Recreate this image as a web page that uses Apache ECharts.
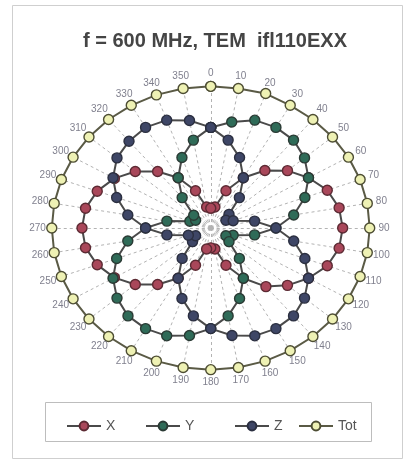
<!DOCTYPE html>
<html>
<head>
<meta charset="utf-8">
<script src="https://cdn.jsdelivr.net/npm/echarts@6/dist/echarts.min.js"></script>
<style>
  html, body { margin: 0; padding: 0; background: #ffffff; }
  #chart { width: 406px; height: 461px; }
</style>
</head>
<body>
<div id="chart"></div>
<script>
// Field-component pattern at f = 600 MHz in the TEM cell, one value every 10 degrees
const angles = [0, 10, 20, 30, 40, 50, 60, 70, 80, 90, 100, 110, 120, 130, 140, 150, 160, 170,
                180, 190, 200, 210, 220, 230, 240, 250, 260, 270, 280, 290, 300, 310, 320, 330, 340, 350];

const xValues = [0.14, 0.15, 0.28, 0.41, 0.53, 0.63, 0.71, 0.78, 0.82, 0.83, 0.82, 0.78, 0.71, 0.63, 0.54, 0.41, 0.28, 0.15,
                 0.14, 0.15, 0.28, 0.41, 0.52, 0.62, 0.70, 0.76, 0.80, 0.81, 0.80, 0.76, 0.70, 0.62, 0.52, 0.41, 0.28, 0.15];

const yValues = [0.71, 0.76, 0.81, 0.82, 0.81, 0.77, 0.71, 0.63, 0.53, 0.41, 0.28, 0.15, 0.11, 0.15, 0.28, 0.41, 0.53, 0.63,
                 0.71, 0.77, 0.81, 0.82, 0.81, 0.77, 0.71, 0.63, 0.53, 0.41, 0.28, 0.14, 0.11, 0.14, 0.28, 0.41, 0.53, 0.63];

const zValues = [0.71, 0.63, 0.53, 0.41, 0.28, 0.15, 0.11, 0.15, 0.28, 0.41, 0.53, 0.63, 0.71, 0.77, 0.81, 0.82, 0.81, 0.77,
                 0.71, 0.63, 0.53, 0.41, 0.28, 0.15, 0.11, 0.15, 0.28, 0.41, 0.53, 0.63, 0.71, 0.77, 0.80, 0.82, 0.81, 0.77];

const totValues = [1.00, 1.00, 1.01, 1.00, 1.00, 1.00, 1.00, 1.00, 1.00, 1.00, 1.00, 1.00, 1.00, 1.00, 1.00, 1.00, 1.00, 1.00,
                   1.00, 1.00, 1.00, 1.00, 1.00, 1.00, 1.00, 1.00, 1.00, 1.00, 1.00, 1.00, 1.00, 1.00, 1.00, 1.00, 1.00, 1.00];

const angleLabels = angles.map(a => String(a));

// polar (value, bearing clockwise from top) -> plane coordinates of the value axes
function toXY(r, deg) {
  const t = deg * Math.PI / 180;
  return [r * Math.sin(t), r * Math.cos(t)];
}

function closedTrace(values) {
  const pts = values.map((v, i) => toXY(v, angles[i]));
  pts.push(pts[0].slice());
  return pts;
}

const spokes = angles.map(a => ({ coords: [[0, 0], toXY(1.0, a)] }));
const labelPoints = angles.map((a, i) => ({ value: toXY(1.09, a), name: angleLabels[i] }));

const lineGray = '#4a4a4a';

function traceSeries(name, values, fill, border, lineColor, z) {
  return {
    name: name,
    type: 'line',
    data: closedTrace(values),
    symbol: 'circle',
    symbolSize: 10,
    showAllSymbol: true,
    smooth: false,
    z: z,
    lineStyle: { color: lineColor, width: 2 },
    itemStyle: { color: fill, borderColor: border, borderWidth: 1.4 },
    emphasis: { disabled: true },
    animation: false
  };
}

const chart = echarts.init(document.getElementById('chart'), null, { renderer: 'canvas' });

const legendBase = {
  top: 414,
  itemWidth: 34,
  itemHeight: 11,
  itemGap: 6,
  textStyle: { fontSize: 14, color: '#555', fontFamily: 'Liberation Sans, Arial, sans-serif' },
  selectedMode: false
};

chart.setOption({
  backgroundColor: '#ffffff',
  animation: false,
  title: {
    text: 'f = 600 MHz, TEM  ifl110EXX',
    left: 78,
    top: 26,
    textStyle: { fontSize: 20, fontWeight: 'bold', color: '#454545', fontFamily: 'Liberation Sans, Arial, sans-serif' }
  },
  graphic: [
    { type: 'rect', shape: { x: 12.5, y: 5.5, width: 390, height: 453 }, style: { fill: 'none', stroke: '#cfcfcf', lineWidth: 1 }, z: 0 },
    { type: 'rect', shape: { x: 45.5, y: 402.5, width: 326, height: 39 }, style: { fill: 'none', stroke: '#bdbdbd', lineWidth: 1 }, z: 0 }
  ],
  legend: [
    Object.assign({}, legendBase, { left: 61, data: ['X'] }),
    Object.assign({}, legendBase, { left: 140, data: ['Y'] }),
    Object.assign({}, legendBase, { left: 229, data: ['Z'] }),
    Object.assign({}, legendBase, { left: 293, data: ['Tot'] })
  ],
  grid: { left: 20, right: 4.5, top: 58, bottom: 63 },
  xAxis: { type: 'value', min: -1.2, max: 1.2, show: false },
  yAxis: { type: 'value', min: -1.2, max: 1.2, show: false },
  series: [
    {
      type: 'lines',
      coordinateSystem: 'cartesian2d',
      data: spokes,
      silent: true,
      z: 1,
      lineStyle: { color: '#b3b3b3', width: 1, type: [3, 3], opacity: 1 },
      animation: false
    },
    traceSeries('X', xValues, '#a9475a', '#5c2a33', lineGray, 3),
    traceSeries('Y', yValues, '#2f6b58', '#2a3a34', lineGray, 4),
    traceSeries('Z', zValues, '#3e4666', '#2b2f40', lineGray, 5),
    traceSeries('Tot', totValues, '#eef1b4', '#4d4d33', '#5a5a45', 6),
    {
      type: 'scatter',
      data: labelPoints,
      symbolSize: 0,
      silent: true,
      z: 7,
      label: {
        show: true,
        position: 'inside',
        formatter: p => p.name,
        fontSize: 10,
        color: '#5f5f70',
        fontFamily: 'Liberation Sans, Arial, sans-serif'
      },
      animation: false
    }
  ]
});
</script>
</body>
</html>
